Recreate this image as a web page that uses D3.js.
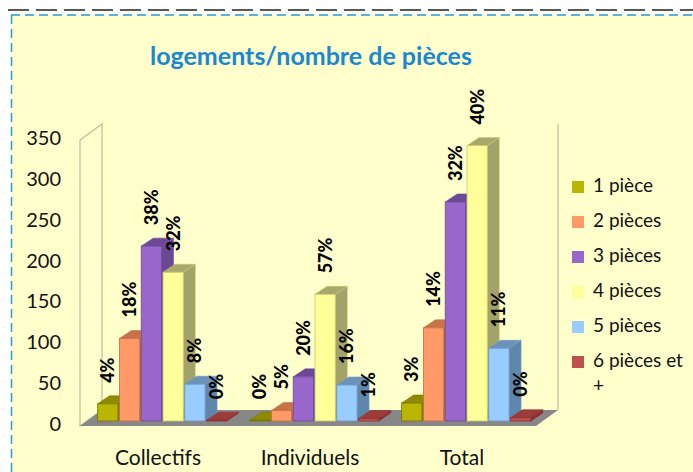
<!DOCTYPE html>
<html>
<head>
<meta charset="utf-8">
<script src="https://cdn.jsdelivr.net/npm/d3@7"></script>
<style>
  body { margin: 0; background: #fff; }
  svg { display: block; font-family: Lato, "Open Sans", sans-serif; }
</style>
</head>
<body>
<svg id="chart" width="693" height="472"></svg>
<script>
"use strict";

// data
let categories = ["Collectifs", "Individuels", "Total"]
let series = ["1 pièce", "2 pièces", "3 pièces", "4 pièces", "5 pièces", "6 pièces et +"]
let collectifs = [21, 101, 214, 182, 45, 1]
let individuels = [1, 13, 54, 155, 44, 3]
let total = [22, 114, 268, 337, 89, 4]
let yTicks = [0, 50, 100, 150, 200, 250, 300, 350]

let colors = [
  {front: "#bab500", top: "#8e8b00", side: "#7f7c00", stroke: "#7a7700"},
  {front: "#ff9966", top: "#c8724a", side: "#b96a45", stroke: "#c0703f"},
  {front: "#9966cc", top: "#6c4896", side: "#6b4892", stroke: "#6e4a98"},
  {front: "#ffff99", top: "#a9a86c", side: "#a3a26a", stroke: "#c8c770"},
  {front: "#99ccff", top: "#6b93b9", side: "#5f87ad", stroke: "#6f9ac4"},
  {front: "#c0504d", top: "#9c3b38", side: "#8c3230", stroke: "#8c3230"}
]

let rows = [collectifs, individuels, total]

let svg = d3.select("#chart")

// frame: yellow area with dashed borders
svg.append("rect").attr("x", 12).attr("y", 15).attr("width", 693).attr("height", 472)
    .attr("fill", "#ffffcc")
svg.append("line").attr("x1", 8).attr("x2", 693).attr("y1", 10).attr("y2", 10)
    .attr("stroke", "#222").attr("stroke-width", 1.5).attr("stroke-dasharray", "21 7")
svg.append("line").attr("x1", 11).attr("x2", 693).attr("y1", 15).attr("y2", 15)
    .attr("stroke", "#2a9ad8").attr("stroke-width", 1.5).attr("stroke-dasharray", "9 5")
svg.append("line").attr("x1", 11.5).attr("x2", 11.5).attr("y1", 15).attr("y2", 472)
    .attr("stroke", "#2a9ad8").attr("stroke-width", 1.5).attr("stroke-dasharray", "9 5")
svg.append("line").attr("x1", 3).attr("x2", 3).attr("y1", 30).attr("y2", 472)
    .attr("stroke", "#d8d8d8").attr("stroke-width", 1).attr("stroke-dasharray", "1 26")

svg.append("text")
    .attr("x", 311).attr("y", 59)
    .attr("text-anchor", "middle").attr("dominant-baseline", "middle")
    .attr("font-size", 25).attr("font-weight", "bold")
    .attr("fill", "#1a88d0")
    .text("logements/nombre de pièces")

// 3D geometry
let left = 80, right = 536
let wallDx = 22, wallDy = -16
let barDx = 7, barDy = -5
let depthDx = 12, depthDy = -8

let y = d3.scaleLinear().domain([0, 350]).range([426, 140])
let x0 = d3.scaleBand().domain(categories).range([left, right])
let x1 = d3.scaleBand().domain(series)
    .range([x0.bandwidth() * 0.07, x0.bandwidth() * 0.92]).paddingInner(0.07)

let pts = p => p.map(d => d.join(",")).join(" ")

// side wall and back edge
svg.append("polygon")
    .attr("points", pts([[left, y(350)], [left + wallDx, y(350) + wallDy],
                         [left + wallDx, y(0) + wallDy], [left, y(0)]]))
    .attr("fill", "none").attr("stroke", "#bdbd9a").attr("stroke-width", 1.2)
svg.append("line")
    .attr("x1", right + wallDx).attr("x2", right + wallDx)
    .attr("y1", y(350) + wallDy).attr("y2", y(0) + wallDy)
    .attr("stroke", "#bdbd9a").attr("stroke-width", 1.2)

// floor
svg.append("polygon")
    .attr("points", pts([[left, y(0)], [left + wallDx, y(0) + wallDy],
                         [right + wallDx, y(0) + wallDy], [right, y(0)]]))
    .attr("fill", "#878787")

// y axis labels
svg.append("g").selectAll("text").data(yTicks).join("text")
    .attr("x", 61).attr("y", d => y(d))
    .attr("text-anchor", "end").attr("dominant-baseline", "middle")
    .attr("font-size", 20).attr("fill", "#111")
    .text(d => d)

// bars
let pct = d3.format(".0%")
rows.forEach((vals, ci) => {
  let sum = d3.sum(vals)
  let g = svg.append("g")
  vals.forEach((v, si) => {
    let c = colors[si]
    let xa = x0(categories[ci]) + x1(series[si]) + barDx
    let xb = xa + x1.bandwidth()
    let yb = y(0) + barDy
    let yt = y(v) + barDy
    // side
    g.append("polygon")
        .attr("points", pts([[xb, yt], [xb + depthDx, yt + depthDy],
                             [xb + depthDx, yb + depthDy], [xb, yb]]))
        .attr("fill", c.side).attr("stroke", c.stroke).attr("stroke-width", 0.6)
    // top
    g.append("polygon")
        .attr("points", pts([[xa, yt], [xa + depthDx, yt + depthDy],
                             [xb + depthDx, yt + depthDy], [xb, yt]]))
        .attr("fill", c.top).attr("stroke", c.stroke).attr("stroke-width", 0.6)
    // front
    g.append("rect")
        .attr("x", xa).attr("y", yt)
        .attr("width", x1.bandwidth()).attr("height", yb - yt)
        .attr("fill", c.front).attr("stroke", c.stroke).attr("stroke-width", 0.8)
  })
  // labels
  vals.forEach((v, si) => {
    let cx = x0(categories[ci]) + x1(series[si]) + barDx + x1.bandwidth() / 2
    let ty = y(v) + barDy - 21
    g.append("text")
        .attr("transform", "translate(" + cx + "," + ty + ") rotate(-90)")
        .attr("dy", "0.36em")
        .attr("font-size", 18).attr("font-weight", "900").attr("fill", "#000")
        .text(pct(v / sum))
  })
})

// category labels
svg.append("g").selectAll("text").data(categories).join("text")
    .attr("x", d => x0(d) + x0.bandwidth() / 2 + 2).attr("y", 460)
    .attr("text-anchor", "middle").attr("dominant-baseline", "middle")
    .attr("font-size", 21).attr("fill", "#111")
    .text(d => d)

// legend
let legend = svg.append("g").attr("transform", "translate(572,187)")
series.forEach((s, i) => {
  let row = legend.append("g").attr("transform", "translate(0," + i * 35 + ")")
  row.append("rect").attr("x", 0).attr("y", -6).attr("width", 12).attr("height", 12)
      .attr("fill", colors[i].front)
  let words = s === "6 pièces et +" ? ["6 pièces et", "+"] : [s]
  words.forEach((w, j) => {
    row.append("text").attr("x", 21).attr("y", j * 25)
        .attr("dominant-baseline", "middle")
        .attr("font-size", 19).attr("fill", "#111")
        .text(w)
  })
})
</script>
</body>
</html>
